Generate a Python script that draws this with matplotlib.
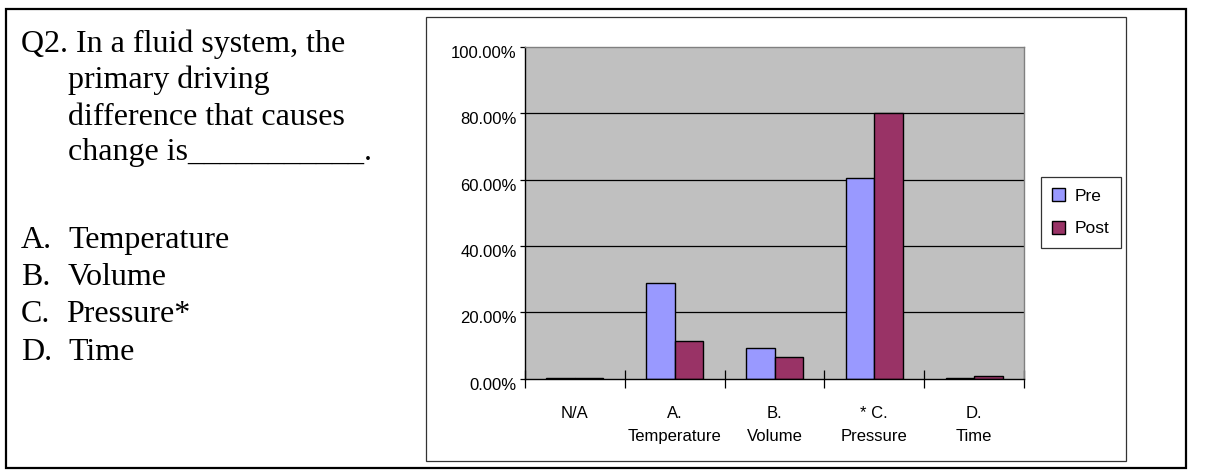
import matplotlib
matplotlib.use("Agg")
import matplotlib.pyplot as plt
from matplotlib.patches import Rectangle
from matplotlib.ticker import FuncFormatter, FixedLocator
from matplotlib.transforms import ScaledTranslation
import numpy as np

# ---- data ----
categories = ["N/A", "A.\nTemperature", "B.\nVolume", "* C.\nPressure", "D.\nTime"]
pre_values = [0.3, 29.0, 9.4, 60.6, 0.3]
post_values = [0.3, 11.4, 6.6, 80.2, 0.8]
series_names = ["Pre", "Post"]
y_ticks = [0, 20, 40, 60, 80, 100]

question_lines = ["Q2. In a fluid system, the", "primary driving",
                  "difference that causes", "change is___________."]
option_letters = ["A.", "B.", "C.", "D."]
option_texts = ["Temperature", "Volume", "Pressure*", "Time"]

W, H = 1209, 470
fig = plt.figure(figsize=(W / 100, H / 100), dpi=100)

def fx(px):
    return px / W

def fy(py):
    return 1 - py / H

# outer border
fig.patches.append(Rectangle((fx(6), fy(468)), fx(1186) - fx(6), fy(9) - fy(468),
                             transform=fig.transFigure, fill=False,
                             edgecolor="black", linewidth=1.6))
# chart box
fig.patches.append(Rectangle((fx(426), fy(461)), fx(1126) - fx(426), fy(17) - fy(461),
                             transform=fig.transFigure, fill=False,
                             edgecolor="#333333", linewidth=0.9))

# question text
serif = "Liberation Serif"
fs_q = 23
q_base = [51.7, 88.3, 125, 160]
q_x = [21, 68, 68, 68]
for txt, x, y in zip(question_lines, q_x, q_base):
    fig.text(fx(x), fy(y), txt, family=serif, fontsize=fs_q, va="baseline", ha="left")
o_base = [248, 285, 322, 360]
o_x = [68, 68, 66, 68]
for let, txt, y, x in zip(option_letters, option_texts, o_base, o_x):
    fig.text(fx(21), fy(y), let, family=serif, fontsize=fs_q, va="baseline", ha="left")
    fig.text(fx(x), fy(y), txt, family=serif, fontsize=fs_q, va="baseline", ha="left")

# chart axes
sans = "Liberation Sans"
fs = 12
ax = fig.add_axes([fx(525), fy(378.7), fx(1024) - fx(525), fy(47) - fy(378.7)])
ax.set_facecolor("#C0C0C0")
x = np.arange(len(categories))
bw = 0.285
ax.bar(x - bw / 2, pre_values, width=bw, color="#9999FF", edgecolor="black",
       linewidth=1.0, label=series_names[0], zorder=3)
ax.bar(x + bw / 2, post_values, width=bw, color="#993366", edgecolor="black",
       linewidth=1.0, label=series_names[1], zorder=3)
ax.set_xlim(-0.5, len(categories) - 0.5)
ax.set_ylim(0, 100)

ax.set_yticks(y_ticks)
ax.yaxis.set_major_formatter(FuncFormatter(lambda v, p: f"{v:.2f}%"))
for v in y_ticks[1:-1]:
    ax.axhline(v, color="black", linewidth=0.9, zorder=1)
ax.tick_params(axis="y", direction="out", length=3.6, width=0.9, pad=2.5,
               labelsize=fs, labelfontfamily=sans)
for lab in ax.get_yticklabels():
    lab.set_transform(lab.get_transform() + ScaledTranslation(0, -5 / 100, fig.dpi_scale_trans))

ax.set_xticks(x)
ax.set_xticklabels(categories, family=sans, fontsize=fs, linespacing=1.65)
ax.tick_params(axis="x", which="major", length=0, pad=19.5)
ax.xaxis.set_minor_locator(FixedLocator(np.arange(-0.5, len(categories), 1.0)))
ax.tick_params(axis="x", which="minor", direction="inout", length=13, width=0.9)

for s in ["left", "bottom"]:
    ax.spines[s].set_color("black")
    ax.spines[s].set_linewidth(1.0)
for s in ["top", "right"]:
    ax.spines[s].set_color("#808080")
    ax.spines[s].set_linewidth(1.0)
ax.spines["bottom"].set_zorder(4)

leg = ax.legend(loc="upper left", bbox_to_anchor=(fx(1041), fy(177)),
                bbox_transform=fig.transFigure, borderaxespad=0,
                frameon=True, fancybox=False, edgecolor="black",
                prop={"family": sans, "size": 12.5}, handlelength=0.75,
                handleheight=0.75, handletextpad=0.55, labelspacing=1.0,
                borderpad=0.65)
leg.get_frame().set_linewidth(0.9)

fig.savefig("out.png", dpi=100)
